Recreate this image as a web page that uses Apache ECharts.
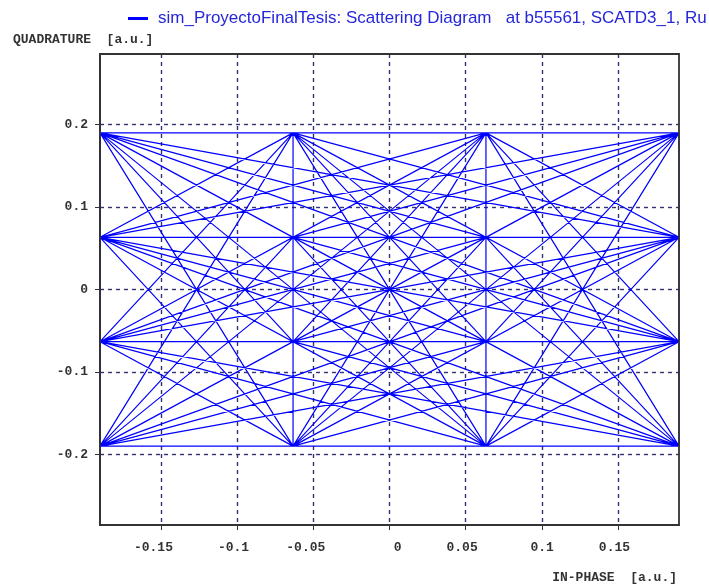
<!DOCTYPE html>
<html><head><meta charset="utf-8">
<script src="https://cdn.jsdelivr.net/npm/echarts@6/dist/echarts.min.js"></script>
<style>html,body{margin:0;padding:0;background:#fff}#c{width:709px;height:586px}</style>
</head><body><div id="c"></div>
<script>
const seriesName = 'sim_ProyectoFinalTesis: Scattering Diagram   at b55561, SCATD3_1, Ru';
const xName = 'IN-PHASE  [a.u.]';
const yName = 'QUADRATURE  [a.u.]';
// constellation levels (16-QAM)
const levelsI = [-0.19, -0.0633, 0.0633, 0.19];
const levelsQ = [-0.19, -0.0633, 0.0633, 0.19];
// symbol trajectory: index = 4*qIndex + iIndex
const symbolSequence = [
  0,1,15,2,14,3,13,4,12,5,11,6,10,7,9,8,
  1,2,0,3,15,4,14,5,13,6,12,7,11,8,10,9,
  2,3,1,4,0,5,15,6,14,7,13,8,12,9,11,10,
  3,4,2,5,1,6,0,7,15,8,14,9,13,10,12,11,
  4,5,3,6,2,7,1,8,0,9,15,10,14,11,13,12,
  5,6,4,7,3,8,2,9,1,10,0,11,15,12,14,13,
  6,7,5,8,4,9,3,10,2,11,1,12,0,13,15,14,
  7,8,6,9,5,10,4,11,3,12,2,13,1,14,0,15
];
const xTicks = [-0.15, -0.1, -0.05, 0, 0.05, 0.1, 0.15];
const xTickLabels = ['-0.15', '-0.1', '-0.05', '0', '0.05', '0.1', '0.15'];
const yTicks = [-0.2, -0.1, 0, 0.1, 0.2];
const yTickLabels = ['-0.2', '-0.1', '0', '0.1', '0.2'];
const xRange = [-0.19, 0.19];
const yRange = [-0.2857, 0.2857];

const points = symbolSequence.map(k => [levelsI[k % 4], levelsQ[Math.floor(k / 4)]]);
function lab(ticks, labels) {
  return v => { const i = ticks.findIndex(t => Math.abs(t - v) < 1e-9); return i >= 0 ? labels[i] : ''; };
}
const mono = 'Liberation Mono, Courier New, monospace';
const gridLine = { show: true, lineStyle: { color: '#33336f', type: [4, 4], width: 1.4 } };

const chart = echarts.init(document.getElementById('c'), null, { renderer: 'canvas' });
chart.setOption({
  animation: false,
  backgroundColor: '#ffffff',
  legend: {
    left: 128, top: 10, padding: 0,
    itemWidth: 20, itemHeight: 3,
    data: [{ name: seriesName, icon: 'rect' }],
    textStyle: { fontFamily: 'Liberation Sans, Arial, sans-serif', fontSize: 17, color: '#2626da', padding: [0, 0, 0, 5] }
  },
  grid: { left: 100, right: 30, top: 54, bottom: 61, show: true, z: 10, borderColor: '#333', borderWidth: 1.8, outerBoundsMode: 'none' },
  xAxis: {
    type: 'value', min: xRange[0], max: xRange[1],
    name: xName, nameLocation: 'end', nameGap: 0, nameMoveOverlap: false,
    nameTextStyle: { fontFamily: mono, fontSize: 13, fontWeight: 'bold', color: '#333', align: 'right', verticalAlign: 'top', padding: [46, 2, 0, 0] },
    axisLine: { show: true, onZero: false, lineStyle: { color: '#222', width: 1.8 } },
    axisTick: { show: true, length: 5, customValues: xTicks, lineStyle: { color: '#333' } },
    axisLabel: { customValues: xTicks, formatter: lab(xTicks, xTickLabels), fontFamily: mono, fontSize: 13, fontWeight: 'bold', color: '#333', margin: 16, align: 'right', padding: [0, -12, 0, 0] },
    splitLine: gridLine
  },
  yAxis: {
    type: 'value', min: yRange[0], max: yRange[1],
    name: yName, nameLocation: 'end', nameGap: 14, nameMoveOverlap: false,
    nameTextStyle: { fontFamily: mono, fontSize: 13, fontWeight: 'bold', color: '#333', align: 'left', verticalAlign: 'middle', padding: [0, 0, 0, -87] },
    axisLine: { show: true, onZero: false, lineStyle: { color: '#222', width: 1.8 } },
    axisTick: { show: true, length: 5, customValues: yTicks, lineStyle: { color: '#333' } },
    axisLabel: { customValues: yTicks, formatter: lab(yTicks, yTickLabels), fontFamily: mono, fontSize: 13, fontWeight: 'bold', color: '#333', margin: 12 },
    splitLine: gridLine
  },
  series: [{
    name: seriesName, type: 'line', data: points, z: 2,
    showSymbol: false, symbol: 'none', clip: false,
    lineStyle: { color: '#0000ff', width: 1.2 },
    itemStyle: { color: '#0000ff' },
    emphasis: { disabled: true }
  }]
});
</script></body></html>
